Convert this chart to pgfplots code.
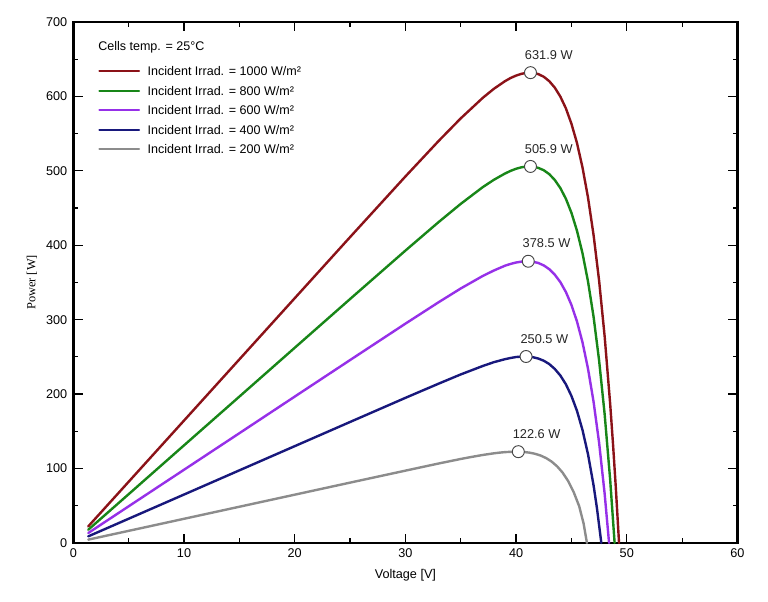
\documentclass[border=0pt]{standalone}
\usepackage{pgfplots}
\pgfplotsset{compat=1.18}
\usepackage{fontspec}
\setmainfont{Liberation Sans}
\newfontfamily\seriffont{Liberation Serif}

\definecolor{irr1000}{RGB}{139,18,24}
\definecolor{irr800}{RGB}{24,134,24}
\definecolor{irr600}{RGB}{150,48,232}
\definecolor{irr400}{RGB}{24,24,124}
\definecolor{irr200}{RGB}{140,140,140}
\definecolor{mppedge}{RGB}{70,70,70}

\begin{document}
\begin{tikzpicture}
\begin{axis}[
  scale only axis,
  width=498.2pt, height=390.75pt,
  xmin=0, xmax=60, ymin=0, ymax=700,
  xtick={0,10,...,60}, ytick={0,100,...,700},
  minor xtick={5,15,...,55}, minor ytick={50,150,...,650},
  tick align=inside,
  xtick pos=both, ytick pos=both,
  major tick length=7pt, minor tick length=3.5pt,
  every tick/.style={black, line width=0.9pt},
  axis line style={black, line width=1.9pt},
  tick label style={font=\fontsize{9.5}{11}\selectfont},
  /pgf/number format/assume math mode=true,
  yticklabel style={xshift=-1pt},
  xticklabel style={yshift=-1pt},
  xlabel={Voltage [V]},
  ylabel={\seriffont Power [W]},
  xlabel style={font=\fontsize{9.5}{11}\selectfont, at={(axis description cs:0.5,-0.0614)}, anchor=center},
  ylabel style={font=\fontsize{9.3}{11}\selectfont, at={(axis description cs:-0.0622,0.5)}, anchor=center},
  legend style={draw=none, fill=none, at={(0.0372,0.915)}, anchor=north west,
    font=\fontsize{9.4}{11}\selectfont, inner sep=0pt, row sep=7.6pt, column sep=5.6pt,
    nodes={inner sep=0pt, text height=7pt, text depth=0pt}},
  legend cell align=left,
  legend image code/.code={\draw[#1, line width=1.4pt] (0pt,0pt) -- (30pt,0pt);},
  every axis plot/.append style={line width=1.8pt, line join=round, line cap=round},
  clip=false,
]

% P-V curve, 1000 W/m2
\addplot[irr1000] coordinates {
 (1.35,22.2) (5,82.2) (10,164.4) (15,246.6) (20,328.8) (25,410.9) (30,492.4)
 (33,540.1) (35,570.5) (37,598.2) (38,610.3) (39,620.5) (39.5,624.7) (40,628.0)
 (40.5,630.4) (41,631.7) (41.2,631.9) (41.5,631.6) (42,630.0) (42.5,626.4)
 (43,620.4) (43.5,611.7) (44,599.7) (44.5,583.9) (45,563.3) (45.5,537.4)
 (46,504.5) (46.5,463.9) (47,413.7) (47.5,352.4) (48,277.6) (48.5,186.6)
 (48.75,134.2) (49,76.5) (49.3,0)
};
\addlegendentry{Incident Irrad. = 1000 W/m²}

% P-V curve, 800 W/m2
\addplot[irr800] coordinates {
 (1.35,17.7) (5,65.5) (10,131.1) (15,196.6) (20,262.2) (25,327.7) (30,392.8)
 (33,431.1) (35,455.6) (37,478.2) (38,488.0) (39,496.4) (39.5,499.9) (40,502.8)
 (40.5,504.8) (41,505.8) (41.2,505.9) (41.5,505.7) (42,504.0) (42.5,500.8)
 (43,495.5) (43.5,487.6) (44,476.8) (44.5,462.4) (45,443.6) (45.5,419.5)
 (46,389.2) (46.5,351.1) (47,303.8) (47.5,245.1) (48,173.0) (48.5,84.7) (48.9,0)
};
\addlegendentry{Incident Irrad. = 800 W/m²}

% P-V curve, 600 W/m2
\addplot[irr600] coordinates {
 (1.35,13.3) (5,49.2) (10,98.3) (15,147.4) (20,196.6) (25,245.7) (30,294.6)
 (33,323.4) (35,341.9) (37,358.8) (38,366.1) (39,372.5) (39.5,374.9) (40,376.8)
 (40.5,378.0) (41,378.5) (41.5,377.9) (42,376.2) (42.5,372.9) (43,367.8)
 (43.5,360.4) (44,350.4) (44.5,337.1) (45,319.8) (45.5,297.6) (46,269.5)
 (46.5,233.9) (47,189.6) (47.5,134.6) (48,66.1) (48.4,0)
};
\addlegendentry{Incident Irrad. = 600 W/m²}

% P-V curve, 400 W/m2
\addplot[irr400] coordinates {
 (1.35,8.8) (5,32.5) (10,65.0) (15,97.5) (20,130.0) (25,162.5) (30,194.9)
 (33,214.0) (35,226.4) (37,237.8) (38,242.9) (39,246.9) (39.5,248.5) (40,249.8)
 (40.5,250.4) (40.8,250.5) (41,250.4) (41.5,249.6) (42,247.8) (42.5,244.8)
 (43,240.3) (43.5,233.7) (44,224.9) (44.5,213.1) (45,197.5) (45.5,177.5)
 (46,151.7) (46.5,118.9) (47,77.3) (47.3,47.2) (47.7,0)
};
\addlegendentry{Incident Irrad. = 400 W/m²}

% P-V curve, 200 W/m2
\addplot[irr200] coordinates {
 (1.35,4.4) (5,16.2) (10,32.4) (15,48.6) (20,64.8) (25,81.0) (30,97.1)
 (33,106.7) (35,112.8) (36,115.6) (37,118.2) (38,120.4) (38.5,121.3) (39,122.0)
 (39.5,122.4) (40.2,122.6) (40.7,122.2) (41.2,121.3) (41.7,119.8) (42.2,117.5)
 (42.7,114.1) (43.2,109.4) (43.7,103.0) (44.2,94.5) (44.7,83.2) (45.2,68.4)
 (45.7,49.3) (46.1,26.0) (46.4,0)
};
\addlegendentry{Incident Irrad. = 200 W/m²}

% maximum power points with their values
\addplot[only marks, mark=*, mark size=4.5pt, line width=0.7pt,
  mark options={fill=white, draw=mppedge},
  point meta=explicit symbolic,
  nodes near coords,
  every node near coord/.style={anchor=west, inner sep=0pt, xshift=-4.5pt, yshift=13.3pt,
    font=\fontsize{9.6}{11}\selectfont, text=black!85}]
  coordinates {
  (41.3,631.9) [631.9 W]
  (41.3,505.9) [505.9 W]
  (41.1,378.5) [378.5 W]
  (40.9,250.5) [250.5 W]
  (40.2,122.6) [122.6 W]
};

\node[anchor=west, inner sep=0pt, font=\fontsize{9.4}{11}\selectfont]
  at (axis description cs:0.0372,0.952) {Cells temp. = 25°C};
\end{axis}
\pgfresetboundingbox
\path ([shift={(-55pt,-44.25pt)}]current axis.south west)
  rectangle ([shift={(22.9pt,16.5pt)}]current axis.north east);
\end{tikzpicture}
\end{document}
